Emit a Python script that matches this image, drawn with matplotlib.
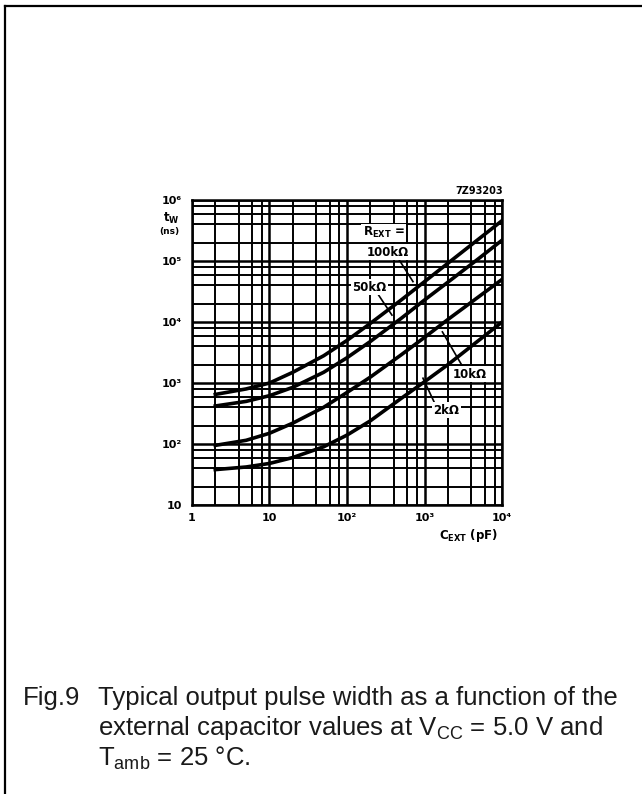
import numpy as np
import matplotlib
matplotlib.use("Agg")
import matplotlib.pyplot as plt
from matplotlib.lines import Line2D
from matplotlib.ticker import LogLocator, NullFormatter

# capacitor values (pF)
c_ext = [2, 5, 10, 20, 50, 100, 200, 500, 1000, 2000, 5000, 10000]

# pulse width (ns) for each R_EXT
tw_100k = [650, 800, 1000, 1500, 2800, 5000, 9500, 23000, 46000, 92000, 230000, 460000]
tw_50k = [420, 500, 620, 850, 1500, 2600, 4800, 11500, 23000, 45000, 110000, 220000]
tw_10k = [95, 115, 150, 220, 400, 700, 1250, 2900, 5600, 11000, 26000, 50000]
tw_2k = [38, 42, 48, 60, 90, 140, 240, 560, 1050, 2000, 5000, 10000]

x_ticks = [1, 10, 100, 1000, 10000]
x_labels = ["1", "10", "10\u00b2", "10\u00b3", "10\u2074"]
y_ticks = [10, 100, 1000, 10000, 100000, 1000000]
y_labels = ["10", "10\u00b2", "10\u00b3", "10\u2074", "10\u2075", "10\u2076"]

plt.rcParams['font.family'] = ['Liberation Sans', 'DejaVu Sans']
plt.rcParams['mathtext.fontset'] = 'custom'
plt.rcParams['mathtext.rm'] = 'Liberation Sans'
plt.rcParams['mathtext.it'] = 'Liberation Sans:italic'
plt.rcParams['mathtext.bf'] = 'DejaVu Sans:bold'

fig = plt.figure(figsize=(6.42, 7.94), dpi=100)

ax = fig.add_axes([0.299, 0.364, 0.483, 0.384])
ax.set_xscale('log')
ax.set_yscale('log')
ax.set_xlim(1, 1e4)
ax.set_ylim(10, 1e6)

# grid: majors plus 2,4,6,8 minors, heavy like the scanned original
ax.xaxis.set_minor_locator(LogLocator(base=10, subs=(2, 4, 6, 8)))
ax.yaxis.set_minor_locator(LogLocator(base=10, subs=(2, 4, 6, 8)))
ax.xaxis.set_minor_formatter(NullFormatter())
ax.yaxis.set_minor_formatter(NullFormatter())
ax.grid(True, which='major', color='black', lw=1.8)
ax.grid(True, which='minor', color='black', lw=1.4)
ax.tick_params(which='both', length=0)
for s in ax.spines.values():
    s.set_linewidth(1.8)

for tw in [tw_100k, tw_50k, tw_10k, tw_2k]:
    ax.plot(c_ext, tw, color='black', lw=2.6, zorder=5)

chart_font = dict(family='DejaVu Sans', fontweight='bold')
ax.set_xticks(x_ticks)
ax.set_xticklabels(x_labels, fontsize=8, **chart_font)
ax.set_yticks(y_ticks)
ax.set_yticklabels(y_labels, fontsize=8, **chart_font)
ax.tick_params(axis='x', pad=6)
ax.tick_params(axis='y', pad=7)

# axis titles
fig.text(0.254, 0.7255, "t$_{\\mathbf{W}}$", fontsize=8.5, va='center', **chart_font)
fig.text(0.248, 0.709, "(ns)", fontsize=6.5, va='center', **chart_font)
fig.text(0.684, 0.326, "C$_{\\mathbf{EXT}}$ (pF)", fontsize=8.5, va='center', **chart_font)
fig.text(0.784, 0.760, "7Z93203", fontsize=7, ha='right', va='center', **chart_font)

# curve labels with leaders
box = dict(fc='white', ec='none', pad=1)
lab_kw = dict(fontsize=8.5, zorder=6, bbox=box, va='center', **chart_font)
ax.text(160, 2.9e5, "R$_{\\mathbf{EXT}}$ =", **lab_kw)
ax.text(180, 1.4e5, "100k\u03a9", **lab_kw)
ax.text(116, 3.7e4, "50k\u03a9", **lab_kw)
ax.text(2330, 1.4e3, "10k\u03a9", **lab_kw)
ax.text(1290, 3.6e2, "2k\u03a9", **lab_kw)
ax.plot([455, 710], [1.12e5, 4.6e4], color='black', lw=1.2, zorder=5)
ax.plot([245, 380], [3.0e4, 1.3e4], color='black', lw=1.2, zorder=5)
ax.plot([3150, 1700], [1.8e3, 6.9e3], color='black', lw=1.2, zorder=5)
ax.plot([1365, 955], [4.55e2, 1.2e3], color='black', lw=1.2, zorder=5)

# page border (top and left edges)
fig.add_artist(Line2D([0.008, 1.0], [0.9925, 0.9925], color='black', lw=1.6))
fig.add_artist(Line2D([0.008, 0.008], [0.0, 0.9925], color='black', lw=1.6))

# caption
cap_kw = dict(fontsize=18.5, color='#1a1a1a', va='baseline')
fig.text(0.036, 0.112, "Fig.9", **cap_kw)
fig.text(0.153, 0.112, "Typical output pulse width as a function of the", **cap_kw)
fig.text(0.153, 0.074, "external capacitor values at V$_{\\rm CC}$ = 5.0 V and", **cap_kw)
fig.text(0.153, 0.036, "T$_{\\rm amb}$ = 25 \u00b0C.", **cap_kw)

fig.savefig("out.png", dpi=100)
